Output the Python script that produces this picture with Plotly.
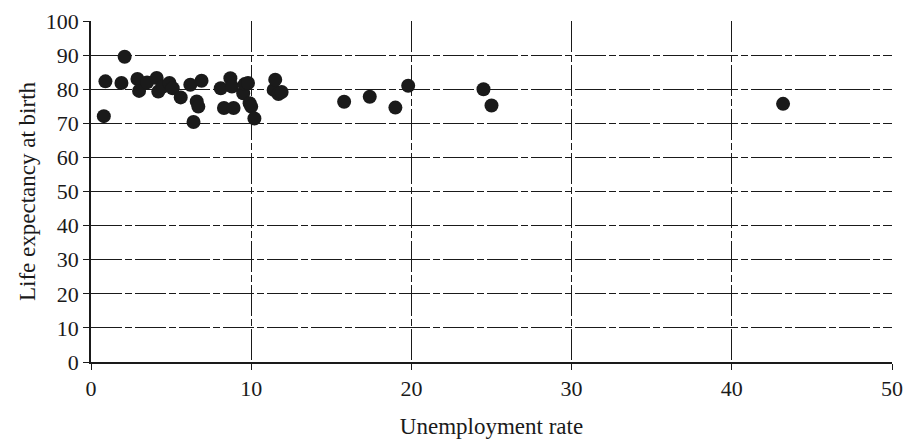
import plotly.graph_objects as go

# Unemployment rate (%) and life expectancy at birth (years) by country
unemployment_rate = [0.8, 0.9, 1.9, 2.1, 2.9, 3.0, 3.5, 4.1, 4.2, 4.5,
                     4.9, 5.1, 5.6, 6.2, 6.4, 6.6, 6.7, 6.9, 8.1, 8.3,
                     8.7, 8.8, 8.9, 9.5, 9.6, 9.8, 9.9, 10.0, 10.2, 11.4,
                     11.5, 11.7, 11.9, 15.8, 17.4, 19.0, 19.8, 24.5, 25.0, 43.2]
life_expectancy = [72.1, 82.3, 81.8, 89.5, 83.0, 79.5, 82.0, 83.3, 79.3, 80.8,
                   81.8, 80.3, 77.6, 81.3, 70.4, 76.4, 74.9, 82.5, 80.3, 74.5,
                   83.2, 80.8, 74.5, 78.8, 81.5, 81.8, 75.9, 74.9, 71.4, 79.8,
                   82.8, 78.6, 79.2, 76.3, 77.8, 74.6, 81.0, 80.0, 75.2, 75.7]

x_ticks = [0, 10, 20, 30, 40, 50]
y_ticks = [0, 10, 20, 30, 40, 50, 60, 70, 80, 90, 100]

INK = "#1a1a1a"
FONT = "Liberation Serif"
GRID_DASH = "31px,3px,7px,3px"

fig = go.Figure(
    go.Scatter(
        x=unemployment_rate,
        y=life_expectancy,
        mode="markers",
        marker=dict(size=14, color=INK, line=dict(width=0)),
        hoverinfo="x+y",
    )
)

fig.update_layout(
    width=910,
    height=448,
    margin=dict(l=91, r=18, t=21, b=86),
    paper_bgcolor="white",
    plot_bgcolor="white",
    showlegend=False,
    font=dict(family=FONT, size=22, color=INK),
)

fig.update_xaxes(
    range=[0, 50],
    tickvals=x_ticks,
    ticktext=[str(v) for v in x_ticks],
    showline=True, linecolor=INK, linewidth=1.5,
    ticks="outside", ticklen=6, tickcolor=INK, tickwidth=1.2,
    showgrid=True, gridcolor=INK, gridwidth=1.2, griddash=GRID_DASH,
    zeroline=False, automargin=False,
    title=dict(text="Unemployment rate", font=dict(family=FONT, size=23, color=INK), standoff=18),
    tickfont=dict(family=FONT, size=22, color=INK),
)

fig.update_yaxes(
    range=[0, 100],
    tickvals=y_ticks,
    ticktext=[str(v) for v in y_ticks],
    showline=True, linecolor=INK, linewidth=1.5,
    ticks="outside", ticklen=6, tickcolor=INK, tickwidth=1.2,
    showgrid=True, gridcolor=INK, gridwidth=1.2, griddash=GRID_DASH,
    zeroline=False, automargin=False,
    title=dict(text="Life expectancy at birth", font=dict(family=FONT, size=23, color=INK), standoff=4),
    tickfont=dict(family=FONT, size=22, color=INK),
)

fig.write_html("out.html")
